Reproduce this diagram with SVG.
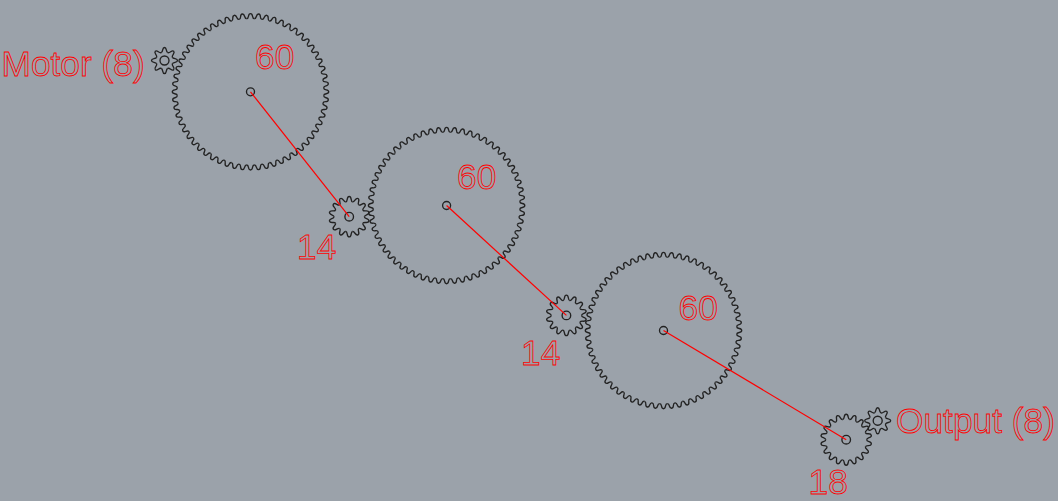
<svg xmlns="http://www.w3.org/2000/svg" width="1058" height="501" viewBox="0 0 1058 501">
<style>
.g{fill:none;stroke:#222;stroke-width:1.35}
.l{fill:none;stroke:#f00;stroke-width:1.2}
.t{font-family:"Liberation Sans",Arial,sans-serif;font-size:35.3px;fill:none;stroke:#f00;stroke-width:.8}
</style>
<defs>
<path id="t60" d="M-3.84-73.2C-.8-73.4-3.2-78.2 0-78.2S.8-73.4 3.84-73.2"/>
<g id="f5"><use href="#t60"/><use href="#t60" transform="rotate(6)"/><use href="#t60" transform="rotate(12)"/><use href="#t60" transform="rotate(18)"/><use href="#t60" transform="rotate(24)"/></g>
<g id="gear60"><use href="#f5"/><use href="#f5" transform="rotate(30)"/><use href="#f5" transform="rotate(60)"/><use href="#f5" transform="rotate(90)"/><use href="#f5" transform="rotate(120)"/><use href="#f5" transform="rotate(150)"/><use href="#f5" transform="rotate(180)"/><use href="#f5" transform="rotate(210)"/><use href="#f5" transform="rotate(240)"/><use href="#f5" transform="rotate(270)"/><use href="#f5" transform="rotate(300)"/><use href="#f5" transform="rotate(330)"/><circle r="4"/></g>
<path id="t8" d="M-3.25-7.85C-1.05-8.76-2.6-13 0-13S1.05-8.76 3.25-7.85"/>
<g id="gear8"><use href="#t8"/><use href="#t8" transform="rotate(45)"/><use href="#t8" transform="rotate(90)"/><use href="#t8" transform="rotate(135)"/><use href="#t8" transform="rotate(180)"/><use href="#t8" transform="rotate(225)"/><use href="#t8" transform="rotate(270)"/><use href="#t8" transform="rotate(315)"/><circle r="4.5"/></g>
<path id="t14" d="M-3.38-14.82C-1.14-15.33-2.9-20.2 0-20.2S1.14-15.33 3.38-14.82"/>
<g id="gear14"><use href="#t14"/><use href="#t14" transform="rotate(25.714)"/><use href="#t14" transform="rotate(51.429)"/><use href="#t14" transform="rotate(77.143)"/><use href="#t14" transform="rotate(102.857)"/><use href="#t14" transform="rotate(128.571)"/><use href="#t14" transform="rotate(154.286)"/><use href="#t14" transform="rotate(180)"/><use href="#t14" transform="rotate(205.714)"/><use href="#t14" transform="rotate(231.429)"/><use href="#t14" transform="rotate(257.143)"/><use href="#t14" transform="rotate(282.857)"/><use href="#t14" transform="rotate(308.571)"/><use href="#t14" transform="rotate(334.286)"/><circle r="4.3"/></g>
<path id="t18" d="M-3.56-20.19C-1-20.64-3-25.5 0-25.5S1-20.64 3.56-20.19"/>
<g id="gear18"><use href="#t18"/><use href="#t18" transform="rotate(20)"/><use href="#t18" transform="rotate(40)"/><use href="#t18" transform="rotate(60)"/><use href="#t18" transform="rotate(80)"/><use href="#t18" transform="rotate(100)"/><use href="#t18" transform="rotate(120)"/><use href="#t18" transform="rotate(140)"/><use href="#t18" transform="rotate(160)"/><use href="#t18" transform="rotate(180)"/><use href="#t18" transform="rotate(200)"/><use href="#t18" transform="rotate(220)"/><use href="#t18" transform="rotate(240)"/><use href="#t18" transform="rotate(260)"/><use href="#t18" transform="rotate(280)"/><use href="#t18" transform="rotate(300)"/><use href="#t18" transform="rotate(320)"/><use href="#t18" transform="rotate(340)"/><circle r="4.3"/></g>
</defs>
<rect width="1058" height="501" fill="#9ba2aa"/>
<g id="motor"><use class="g" href="#gear8" transform="translate(164.5 60.5)"/><text class="t" x="1.5" y="76">Motor (8)</text></g>
<g id="gear-a"><use class="g" href="#gear60" transform="translate(250.5 91.8)"/><text class="t" x="255" y="68.5">60</text></g>
<g id="pinion-a"><use class="g" href="#gear14" transform="translate(349.2 216.7)"/><text class="t" x="297" y="259">14</text></g>
<g id="gear-b"><use class="g" href="#gear60" transform="translate(446.6 205.5)"/><text class="t" x="457" y="188.5">60</text></g>
<g id="pinion-b"><use class="g" href="#gear14" transform="translate(566.4 315.4)"/><text class="t" x="521" y="365">14</text></g>
<g id="gear-c"><use class="g" href="#gear60" transform="translate(663.5 330.5)"/><text class="t" x="678.5" y="320">60</text></g>
<g id="pinion-c"><use class="g" href="#gear18" transform="translate(846.2 439.7)"/><text class="t" x="808.5" y="494">18</text></g>
<g id="output"><use class="g" href="#gear8" transform="translate(877.7 420.7)"/><text class="t" x="896" y="433">Output (8)</text></g>
<g id="connectors">
<line class="l" x1="250.5" y1="91.8" x2="349.2" y2="216.7"/>
<line class="l" x1="446.6" y1="205.5" x2="566.4" y2="315.4"/>
<line class="l" x1="663.5" y1="330.5" x2="846.2" y2="439.7"/>
</g>
</svg>
